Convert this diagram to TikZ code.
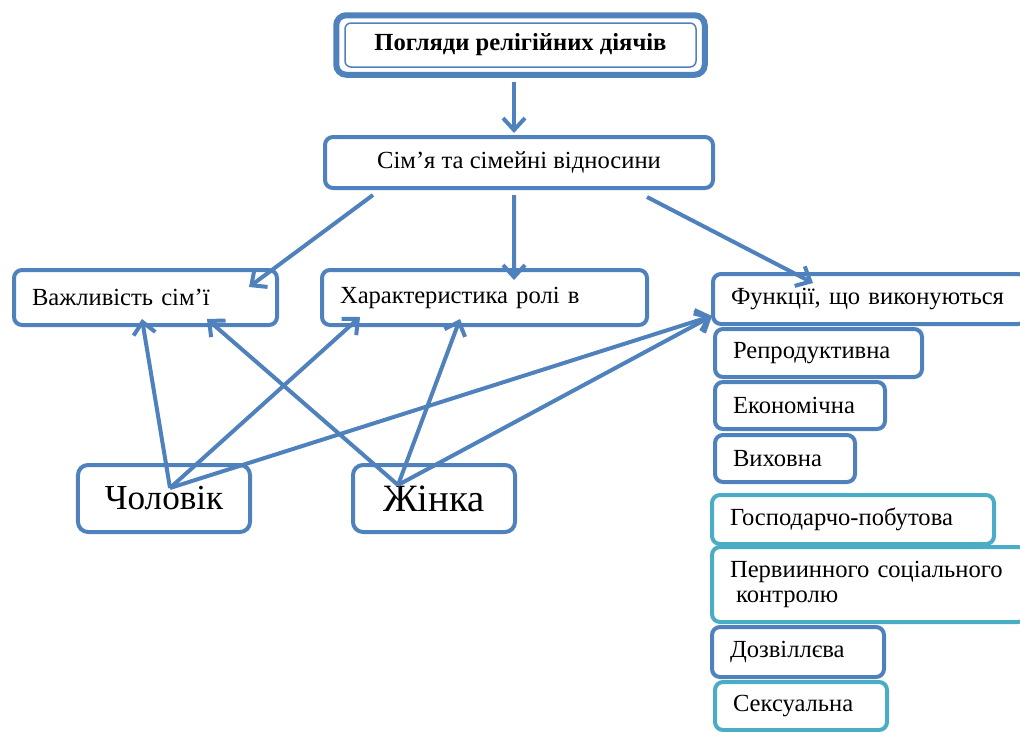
\documentclass[tikz,border=0pt]{standalone}
\usepackage{fontspec}
\setmainfont{Liberation Serif}
\usetikzlibrary{arrows.meta,calc}
\definecolor{boxblue}{RGB}{79,129,189}
\definecolor{boxteal}{RGB}{75,172,198}

\begin{document}
\begin{tikzpicture}[x=0.2mm, y=-0.2mm, >={Straight Barb[length=2.4mm,width=4.4mm]},
  font=\fontsize{14}{14.5}\selectfont,
  headbox/.style={draw=boxblue, line width=0.8mm, rounded corners=1.6mm, fill=white, align=center},
  itembox/.style={headbox, anchor=north west, align=left, inner xsep=3.6mm, inner ysep=0pt},
  tealbox/.style={itembox, draw=boxteal},
  personbox/.style={headbox, rounded corners=2mm, minimum height=13.4mm},
  link/.style={->, draw=boxblue, line width=0.8mm}]

\useasboundingbox (0,0) rectangle (1020,731);

% Title
\node[draw=boxblue, line width=0.3mm, rounded corners=1.2mm, minimum width=70.2mm, minimum height=8.8mm,
  font=\fontsize{14}{16}\selectfont\bfseries] (title) at (520.5,45) {Погляди релігійних діячів};
\draw[boxblue, line width=1.2mm, rounded corners=2mm]
  ($(title.north west)+(-8,-7)$) rectangle ($(title.south east)+(8,7)$);

% Second level
\node[headbox, minimum width=77.6mm, minimum height=10.2mm] (family) at (519,162.5) {Сім’я та сімейні відносини};

% Third level
\node[itembox, text width=45.4mm, minimum height=11mm] (vazh) at (12,268) {Важливість сім’ї};
\node[itembox, text width=57.8mm, minimum height=11mm] (khar) at (320,268) {Характеристика ролі в};
\node[itembox, text width=55.4mm, minimum height=10mm] (func) at (711,272) {Функції, що виконуються};

% Functions list
\node[itembox, text width=34.2mm, minimum height=9.6mm] (repr) at (713,327) {Репродуктивна};
\node[itembox, text width=26.8mm, minimum height=9.4mm] (ekon) at (713,380) {Економічна};
\node[itembox, text width=20.8mm, minimum height=9.4mm] (vykh) at (713,433) {Виховна};
\node[tealbox, text width=49.2mm, minimum height=9.8mm] (hosp) at (710,493) {Господарчо-побутова};
\node[tealbox, text width=55.6mm, minimum height=15mm] (perv) at (710,545) {Первиинного соціального\\\hspace{0.25em}контролю};
\node[itembox, text width=27.2mm, minimum height=10mm] (dozv) at (710,625) {Дозвіллєва};
\node[tealbox, text width=27.2mm, minimum height=9.6mm] (seks) at (713,680) {Сексуальна};

% Persons
\node[personbox, minimum width=34.4mm, font=\fontsize{20}{22}\selectfont] (chol) at (164,498.5) {Чоловік};
\node[personbox, minimum width=32.4mm, font=\fontsize{22}{24}\selectfont] (zhin) at (434,498.5) {Жінка};

% Arrows from the top
\draw[link] ($(title.south)+(-6.5,14)$) -- ($(family.north)+(-5,-2)$);
\draw[link] ($(family.south west)+(50,5)$) -- ($(vazh.north east)+(-30,19)$);
\draw[link] ($(family.south)+(-5,5)$) -- ($(khar.north east)+(-135,12)$);
\draw[link] ($(family.south east)+(-68,7)$) -- ($(func.north west)+(102,11)$);

% Arrows from the persons
\coordinate (cholroot) at ($(chol.north)+(6,25)$);
\coordinate (zhinroot) at ($(zhin.north)+(-36,22)$);
\draw[link] (cholroot) -- ($(vazh.south west)+(130,-8)$);
\draw[link] (cholroot) -- ($(khar.south west)+(40,-10)$);
\draw[link] (cholroot) -- ($(func.south west)+(1,-10)$);
\draw[link] (zhinroot) -- ($(vazh.south west)+(195,-8)$);
\draw[link] (zhinroot) -- ($(khar.south west)+(140,-8)$);
\draw[link] (zhinroot) -- ($(func.south west)+(1,-10)$);

\end{tikzpicture}
\end{document}
